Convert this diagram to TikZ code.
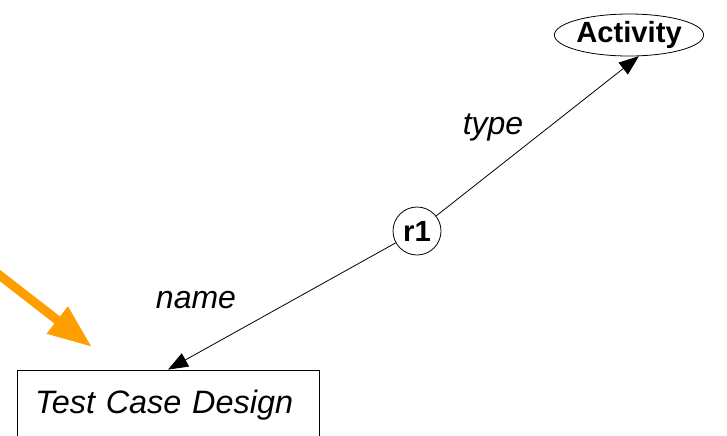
\documentclass[tikz,border=0pt]{standalone}
\usepackage{fontspec}
\setmainfont{Liberation Sans}
\usetikzlibrary{arrows.meta, shapes.geometric}

\definecolor{hintorange}{RGB}{255,158,0}

\begin{document}
\begin{tikzpicture}[x=0.5pt, y=-0.5pt]

\useasboundingbox (0,0) rectangle (727,435);

\begin{scope}[every node/.style={draw, thin, inner sep=0pt, font=\fontsize{14.6}{16}\selectfont\bfseries}]
    \node (act) at (629, 35) [ellipse, minimum width=69pt, minimum height=21pt] {Activity};
    \node (r1) at (417, 231) [circle, minimum size=24pt] {r1};
    \node (tcd) at (168, 405) [rectangle, inner xsep=9pt, text width=133pt, align=left,
        minimum height=35pt, font=\fontsize{16.2}{18}\selectfont\itshape] {Test Case Design};
\end{scope}

\coordinate (hint) at (-20, 260);
\coordinate (hinttip) at (92, 347);

\begin{scope}[>={Triangle[length=10pt, width=7.5pt]}]
    \draw [->, thin] (r1) -- (act.-65);
    \draw [->, thin] (r1) -- (tcd.north);
\end{scope}

\draw [-{Triangle[length=22pt, width=16pt]}, hintorange, line width=4.5pt] (hint) -- (hinttip);

\node (type) at (493, 127) [font=\fontsize{16}{18}\selectfont\itshape] {type};
\node (name) at (196, 300) [font=\fontsize{16}{18}\selectfont\itshape] {name};

\end{tikzpicture}
\end{document}
